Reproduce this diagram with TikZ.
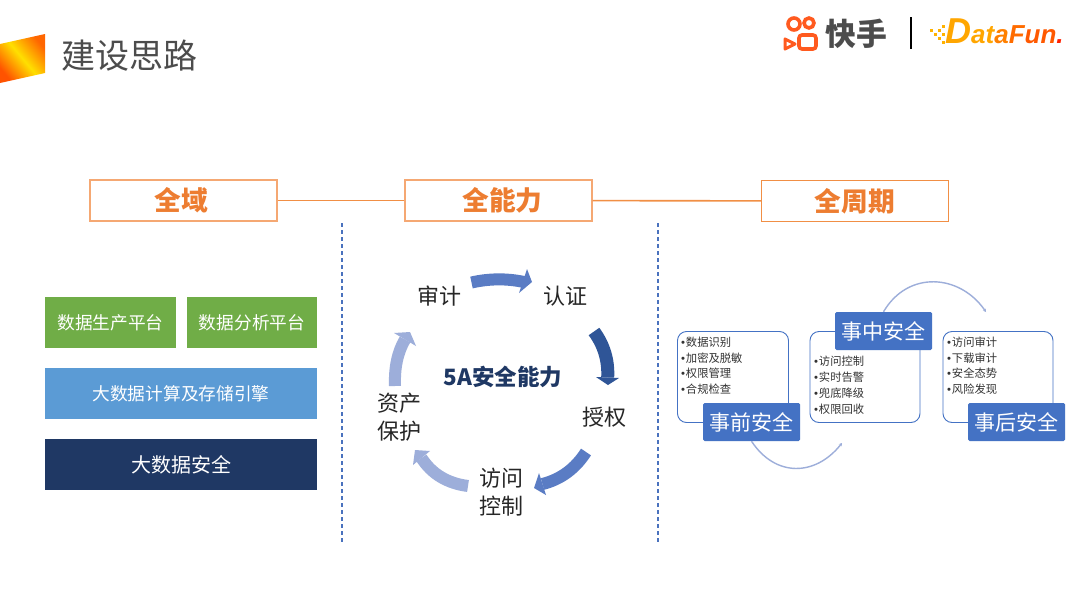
\documentclass[tikz,border=0pt]{standalone}
\usepackage{fontspec}
\setmainfont{Noto Sans CJK SC}
\newfontfamily\latinit{Liberation Sans}
\usetikzlibrary{calc,arrows.meta}
\definecolor{orangeline}{HTML}{F18F45}
\definecolor{orangelight}{HTML}{F5A873}
\definecolor{orangetxt}{HTML}{ED7D31}
\definecolor{gr}{HTML}{70AD47}
\definecolor{lb}{HTML}{5B9BD5}
\definecolor{nv}{HTML}{1F3864}
\definecolor{bl}{HTML}{4472C4}
\definecolor{ar}{HTML}{5A7CC4}
\definecolor{ard}{HTML}{2F5597}
\definecolor{arl}{HTML}{9DAEDA}
\definecolor{dash}{HTML}{4A72BE}
\definecolor{kw}{HTML}{FF5A1F}
\newcommand{\bu}{{\latinit •}\hspace{0.8pt}}
\tikzset{
 fsz/.style={font=\fontsize{#1}{#1}\selectfont},
 headbox/.style={draw=orangelight,line width=1.3pt,fill=white,minimum width=187pt,minimum height=41pt,inner sep=0pt,text=orangetxt,font=\fontsize{26.7}{26.7}\selectfont\bfseries},
 block/.style={minimum height=51.5pt,inner sep=0pt,text=white,font=\fontsize{17.7}{17.7}\selectfont},
 hlink/.style={draw=orangeline,line width=1.6pt},
 sep/.style={draw=dash,line width=1.2pt,dash pattern=on 4pt off 3pt},
 lab/.style={text=black!85,font=\fontsize{22}{28}\selectfont,align=center,inner sep=0pt},
 listbox/.style={draw=bl,line width=0.9pt,rounded corners=9pt,fill=white},
 tagbox/.style={fill=bl,rounded corners=1.5pt,minimum width=97pt,minimum height=38pt,inner sep=0pt,text=white,font=\fontsize{21}{21}\selectfont},
 listtxt/.style={anchor=north west,inner sep=0pt,align=left,text=black!80,font=\fontsize{11.3}{15.8}\selectfont},
 thinarc/.style={draw=arl,line width=1.4pt,-{Stealth[length=3pt,width=3.5pt]}},
}
\newcommand{\blockarrow}[8]{% colour, tail, quad ctrl, base, tip, c1, c2, width
 \draw[#1,line width=#8] (#2) .. controls ($(#2)!0.667!(#3)$) and ($(#4)!0.667!(#3)$) .. (#4);
 \fill[#1] (#5) -- (#6) -- (#7) -- cycle;
}
\begin{document}
\begin{tikzpicture}[x=1pt,y=-1pt]
\useasboundingbox (0,0) rectangle (1080,608);
\fill[white] (0,0) rectangle (1080,608);
% corner swatch
\shade[left color=orange!65!red,right color=orange!80!red,middle color=yellow!75!orange,shading angle=130] (0,44) -- (45,34) -- (45,73) -- (0,83) -- cycle;
\node[anchor=west,inner sep=0pt,text=black!70,fsz=34] (title) at (61,56) {建设思路};
% logos
\draw[kw,line width=3.6pt] (794,24) circle (6pt);
\draw[kw,line width=3.6pt] (809,23) circle (5pt);
\draw[kw,line width=3.6pt,rounded corners=3pt] (799,35) rectangle (816,49);
\draw[kw,line width=3pt,line join=round] (785,39) -- (795,44) -- (785,49) -- cycle;
\node[anchor=west,inner sep=0pt,text=black!70,fsz=30.8] (ks) at (825,34) {\bfseries 快手};
\draw[black,line width=1.2pt] (911,17) -- (911,49);
\foreach \p/\c in {930/29,934/33,938/29,938/37,942/33,942/25,942/41}
 \fill[orange!60!yellow] (\p,\c) rectangle +(3.2,3.2);
\node[anchor=base west,inner sep=0pt] (df) at (945,43) {\latinit\bfseries\itshape\fontsize{36}{36}\selectfont\textcolor{orange!70!yellow}{D}\fontsize{26}{26}\selectfont\textcolor{orange!70!yellow}{at}\textcolor{orange}{a}\textcolor{orange!85!red}{F}\textcolor{orange!70!red}{un}\textcolor{red!75!orange}{.}};
% headers
\node[headbox] (a) at (183.5,200.5) {\hspace{-4pt}全域};
\node[headbox] (b) at (498.5,200.5) {\hspace{8pt}全能力};
\node[headbox,draw=orangeline] (c) at (855,201) {全周期};
\draw[hlink] (a) -- (b);
\draw[hlink] (b) -- (c);
% separators
\coordinate (s1t) at (342,223); \coordinate (s1b) at (342,544);
\coordinate (s2t) at (658,223); \coordinate (s2b) at (658,544);
\draw[sep] (s1t) -- (s1b);
\draw[sep] (s2t) -- (s2b);
% left blocks
\node[block,fill=gr,minimum width=131pt] (g1) at (110.5,322.5) {数据生产平台};
\node[block,fill=gr,minimum width=130pt] (g2) at (252,322.5) {数据分析平台};
\node[block,fill=lb,minimum width=272pt] (l1) at (181,393.5) {大数据计算及存储引擎};
\node[block,fill=nv,minimum width=272pt] (n1) at (181,464.5) {\fontsize{20}{20}\selectfont 大数据安全};
% ring
\node[lab] (sj) at (439,296) {审计};
\node[lab] (rz) at (565,296) {认证};
\node[lab] (sq) at (604,417) {授权};
\node[lab] (fw) at (501,492) {访问\\控制};
\node[lab] (zc) at (399,417) {资产\\保护};
\node[inner sep=0pt,text=nv,fsz=22.5] (ctr) at (503,377) {\bfseries 5A安全能力};
\blockarrow{ar}{471.5,282.5}{498,276.5}{524,282}{532,282}{527,269}{519,293}{12pt}
\blockarrow{ard}{594,331.5}{609,352}{607.7,377.5}{608,385}{596,377}{619,378}{13pt}
\blockarrow{ar}{586,452}{570,477}{542.5,484}{534,488}{539,473}{546,495}{12pt}
\blockarrow{arl}{468,486}{437,482}{421.5,458}{415,450}{430,451}{413,465}{12pt}
\blockarrow{arl}{395,386}{394,358}{405,339.5}{410,332}{394,333}{416,346}{12pt}
% lists
\node[listbox,minimum width=111pt,minimum height=91pt] (p1) at (733,377) {};
\node[listbox,minimum width=110pt,minimum height=91pt] (p2) at (865,377) {};
\node[listbox,minimum width=110pt,minimum height=91pt] (p3) at (998,377) {};
\node[listtxt] (t1) at (681,336.5) {\bu 数据识别\\\bu 加密及脱敏\\\bu 权限管理\\\bu 合规检查};
\node[listtxt] (t2) at (814,356) {\bu 访问控制\\\bu 实时告警\\\bu 兜底降级\\\bu 权限回收};
\node[listtxt] (t3) at (947,336.5) {\bu 访问审计\\\bu 下载审计\\\bu 安全态势\\\bu 风险发现};
\node[tagbox] (q1) at (751.5,422) {事前安全};
\node[tagbox] (q2) at (883.5,331) {事中安全};
\node[tagbox] (q3) at (1016.5,422) {事后安全};
\draw[thinarc] (q1.south) .. controls (775,477) and (815,477) .. (842,443);
\draw[thinarc] (q2.north) .. controls (908,270) and (960,274) .. (986,312);
\end{tikzpicture}
\end{document}
